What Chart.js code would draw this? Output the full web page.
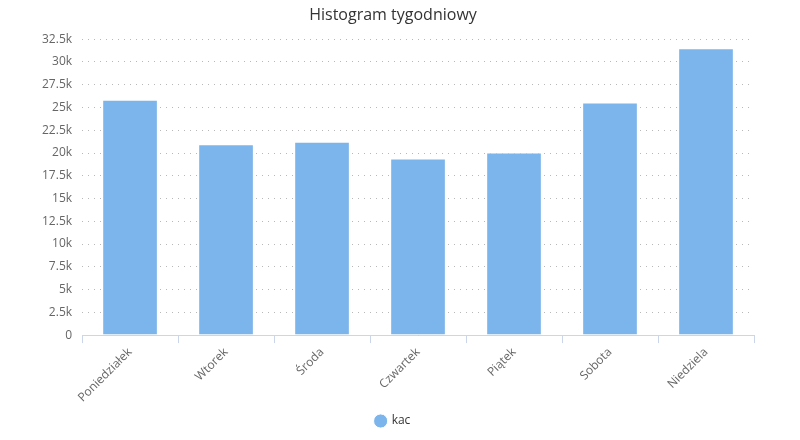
<!DOCTYPE html>
<html>
<head>
<meta charset="utf-8">
<script src="https://cdn.jsdelivr.net/npm/chart.js@4"></script>
<style>
  html, body { margin: 0; padding: 0; background: #fff; }
  #wrap { width: 800px; height: 440px; }
</style>
</head>
<body>
<div id="wrap"><canvas id="chart" width="800" height="440"></canvas></div>
<script>
const days   = ['Poniedziałek', 'Wtorek', 'Środa', 'Czwartek', 'Piątek', 'Sobota', 'Niedziela']
const kac    = [25850, 20950, 21250, 19400, 20050, 25550, 31500]
const yTicks = [0, 2500, 5000, 7500, 10000, 12500, 15000, 17500, 20000, 22500, 25000, 27500, 30000, 32500]

const FONT = '"Open Sans", "Lucida Grande", sans-serif'

function kLabel(v) {
  return v === 0 ? '0' : (v / 1000) + 'k'
}

new Chart(document.getElementById('chart').getContext('2d'), {
  type: 'bar',
  data: {
    labels: days,
    datasets: [{
      label: 'kac',
      data: kac,
      backgroundColor: '#7cb5ec',
      borderColor: '#ffffff',
      borderWidth: 1,
      categoryPercentage: 1,
      barPercentage: 0.58
    }]
  },
  options: {
    responsive: false,
    animation: false,
    layout: { padding: { top: 4, right: 46, left: 32, bottom: 3 } },
    plugins: {
      title: {
        display: true,
        text: 'Histogram tygodniowy',
        color: '#333333',
        font: { family: FONT, size: 16, weight: 'normal' },
        padding: { top: 2, bottom: 14 }
      },
      legend: {
        position: 'bottom',
        labels: {
          usePointStyle: true,
          pointStyle: 'circle',
          boxWidth: 10,
          boxHeight: 10,
          color: '#333333',
          font: { family: FONT, size: 12 },
          padding: 8
        }
      },
      tooltip: { enabled: false }
    },
    scales: {
      x: {
        grid: {
          offset: true,
          drawOnChartArea: false,
          drawTicks: true,
          tickLength: 8,
          color: '#ccd6eb'
        },
        border: { color: '#ccd6eb' },
        ticks: {
          color: '#666666',
          font: { family: FONT, size: 12 },
          maxRotation: 45,
          minRotation: 45,
          padding: 2
        }
      },
      y: {
        min: 0,
        max: 32500,
        afterBuildTicks: axis => { axis.ticks = yTicks.map(v => ({ value: v })) },
        grid: {
          color: '#b8b8b8',
          drawTicks: false
        },
        border: { display: false, dash: [1, 5] },
        ticks: {
          color: '#666666',
          font: { family: FONT, size: 12 },
          padding: 10,
          callback: v => kLabel(v)
        }
      }
    }
  }
})
</script>
</body>
</html>
